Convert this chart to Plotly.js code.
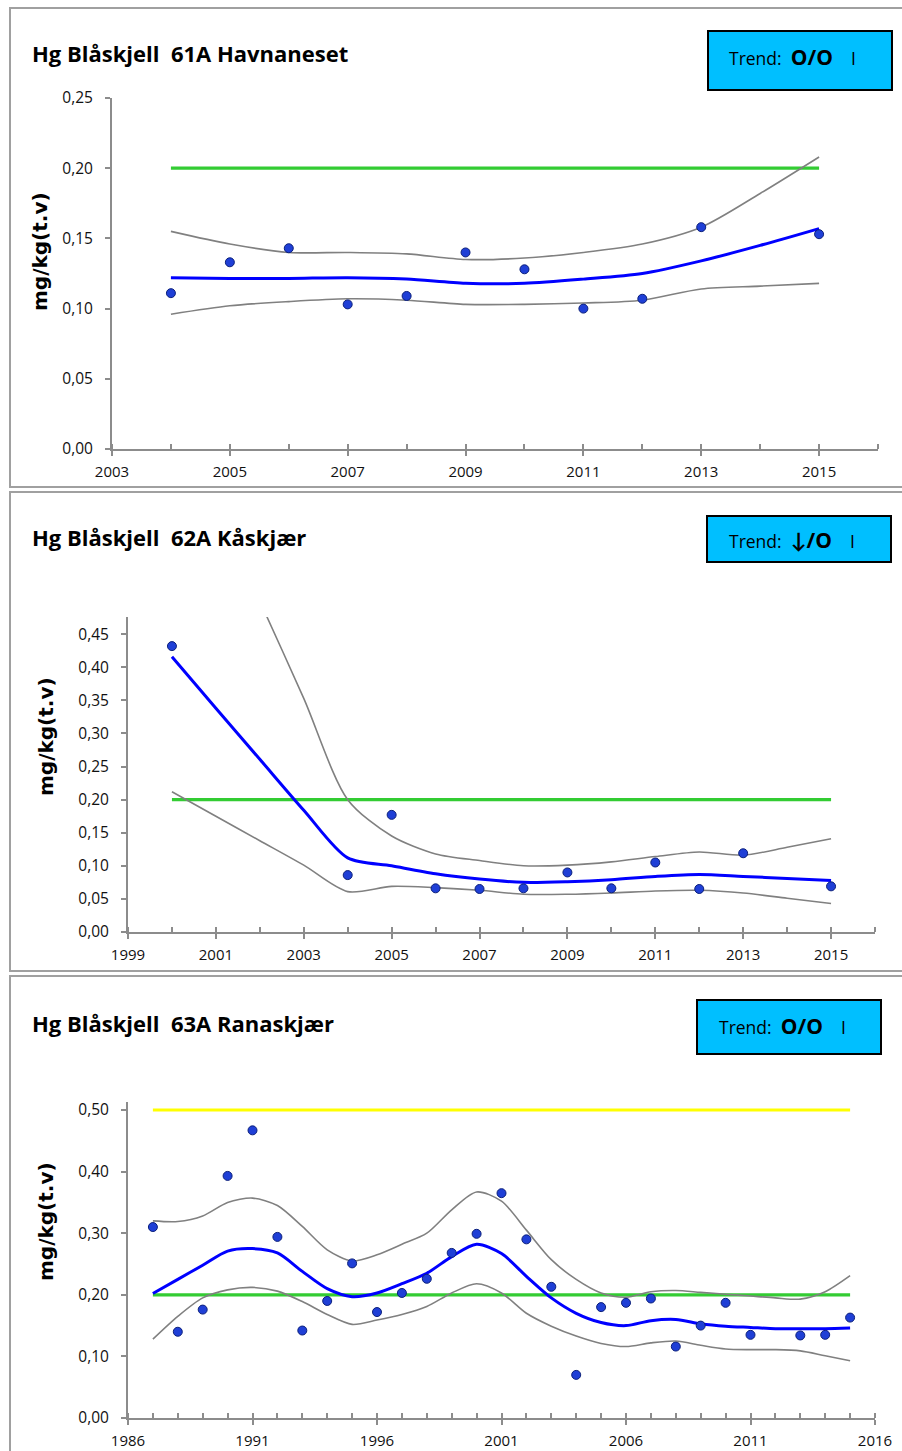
<!DOCTYPE html>
<html><head><meta charset="utf-8">
<script src="https://cdn.plot.ly/plotly-3.0.1.min.js"></script>
<style>html,body{margin:0;padding:0;background:#fff}#chart{width:902px;height:1451px}</style>
</head><body><div id="chart"></div>
<script>
// ---------- DATA ----------
// Panel 1: 61A Havnaneset
const p1_title = "Hg Blåskjell\u00a0 61A Havnaneset";
const p1_trendSymbol = "O/O";
const p1_years = [2004,2005,2006,2007,2008,2009,2010,2011,2012,2013,2015];
const p1_hg = [0.111,0.133,0.143,0.103,0.109,0.140,0.128,0.100,0.107,0.158,0.153];
const p1_fitYears = [2004,2005,2006,2007,2008,2009,2010,2011,2012,2013,2014,2015];
const p1_trend = [0.122,0.1215,0.1215,0.122,0.121,0.118,0.118,0.121,0.125,0.134,0.145,0.157];
const p1_upper = [0.155,0.146,0.140,0.140,0.139,0.135,0.136,0.140,0.146,0.158,0.182,0.208];
const p1_lower = [0.096,0.102,0.105,0.107,0.106,0.103,0.103,0.104,0.106,0.114,0.116,0.118];
const p1_limitYears = [2004,2015];
const p1_limitGreen = [0.20,0.20];

// Panel 2: 62A Kåskjær
const p2_title = "Hg Blåskjell\u00a0 62A Kåskjær";
const p2_trendSymbol = "\u2193/O";
const p2_years = [2000,2004,2005,2006,2007,2008,2009,2010,2011,2012,2013,2015];
const p2_hg = [0.432,0.086,0.177,0.066,0.065,0.066,0.090,0.066,0.105,0.065,0.119,0.069];
const p2_fitYears = [2000,2001,2002,2003,2004,2005,2006,2007,2008,2009,2010,2011,2012,2013,2014,2015];
const p2_trend = [0.416,0.338,0.261,0.184,0.112,0.100,0.088,0.080,0.075,0.076,0.079,0.084,0.087,0.084,0.081,0.078];
const p2_upper = [0.790,0.645,0.500,0.353,0.200,0.145,0.118,0.108,0.100,0.101,0.106,0.114,0.121,0.116,0.128,0.141];
const p2_lower = [0.212,0.175,0.138,0.101,0.061,0.069,0.067,0.063,0.057,0.057,0.059,0.062,0.063,0.059,0.051,0.043];
const p2_limitYears = [2000,2015];
const p2_limitGreen = [0.20,0.20];

// Panel 3: 63A Ranaskjær
const p3_title = "Hg Blåskjell\u00a0 63A Ranaskjær";
const p3_trendSymbol = "O/O";
const p3_years = [1987,1988,1989,1990,1991,1992,1993,1994,1995,1996,1997,1998,1999,2000,2001,2002,2003,2004,2005,2006,2007,2008,2009,2010,2011,2013,2014,2015];
const p3_hg = [0.310,0.140,0.176,0.393,0.467,0.294,0.142,0.190,0.251,0.172,0.203,0.226,0.268,0.299,0.365,0.290,0.213,0.070,0.180,0.187,0.194,0.116,0.150,0.187,0.135,0.134,0.135,0.163];
const p3_fitYears = [1987,1988,1989,1990,1991,1992,1993,1994,1995,1996,1997,1998,1999,2000,2001,2002,2003,2004,2005,2006,2007,2008,2009,2010,2011,2012,2013,2014,2015];
const p3_trend = [0.202,0.225,0.248,0.271,0.275,0.268,0.238,0.210,0.197,0.203,0.218,0.235,0.262,0.282,0.267,0.230,0.195,0.170,0.155,0.150,0.158,0.160,0.153,0.149,0.147,0.145,0.145,0.145,0.146];
const p3_upper = [0.320,0.319,0.328,0.350,0.357,0.345,0.311,0.273,0.255,0.265,0.282,0.300,0.338,0.367,0.352,0.305,0.257,0.225,0.203,0.196,0.205,0.207,0.204,0.201,0.198,0.195,0.193,0.205,0.231];
const p3_lower = [0.128,0.165,0.195,0.208,0.212,0.206,0.189,0.168,0.152,0.159,0.168,0.181,0.203,0.218,0.203,0.170,0.149,0.133,0.121,0.116,0.122,0.125,0.118,0.112,0.111,0.111,0.109,0.101,0.093];
const p3_limitYears = [1987,2015];
const p3_limitGreen = [0.20,0.20];
const p3_limitYellow = [0.50,0.50];

const yTitle = "mg/kg(t.v)";

// ---------- LAYOUT HELPERS ----------
const W = 902, H = 1451;
const px = v => v / W;
const py = v => 1 - v / H;

const GRAY = "#8c8c8c";
const XTICKFONT = {family: "Open Sans, Lato, sans-serif", size: 15, color: "#111"};
const YTICKFONT = {family: "Open Sans, Lato, sans-serif", size: 15.5, color: "#111"};

function xAxis(dom, range, tick0, dtick, anchor) {
  return {domain: dom, range: range, tick0: tick0, dtick: dtick, anchor: anchor,
    showgrid: false, zeroline: false, showline: true, linecolor: GRAY, linewidth: 2,
    ticks: "outside", ticklen: 5, tickwidth: 2, tickcolor: GRAY,
    minor: {dtick: 1, tick0: tick0, ticks: "inside", ticklen: 5, tickwidth: 2, tickcolor: GRAY, showgrid: false},
    tickfont: XTICKFONT, ticklabelstandoff: 3, fixedrange: true};
}
function yAxis(dom, range, dtick, anchor) {
  return {domain: dom, range: range, tick0: 0, dtick: dtick, anchor: anchor,
    showgrid: false, zeroline: false, showline: true, linecolor: GRAY, linewidth: 2,
    ticks: "outside", ticklen: 5, tickwidth: 2, tickcolor: GRAY, tickformat: ".2f",
    tickfont: YTICKFONT, ticklabelstandoff: 9, fixedrange: true};
}

function panelTraces(xa, ya, years, hg, fitYears, trend, upper, lower, limits) {
  const t = [];
  limits.forEach(l => t.push({x: l.x, y: l.y, xaxis: xa, yaxis: ya, mode: "lines",
    line: {color: l.color, width: 3.2}, hoverinfo: "skip"}));
  t.push({x: fitYears, y: upper, xaxis: xa, yaxis: ya, mode: "lines",
    line: {color: "#808080", width: 1.6, shape: "spline", smoothing: 0.8}});
  t.push({x: fitYears, y: lower, xaxis: xa, yaxis: ya, mode: "lines",
    line: {color: "#808080", width: 1.6, shape: "spline", smoothing: 0.8}});
  t.push({x: fitYears, y: trend, xaxis: xa, yaxis: ya, mode: "lines",
    line: {color: "#0000ff", width: 3, shape: "spline", smoothing: 0.8}});
  t.push({x: years, y: hg, xaxis: xa, yaxis: ya, mode: "markers", cliponaxis: false,
    marker: {color: "#1f3fd6", size: 9, line: {color: "#0b1f7a", width: 1}}});
  return t;
}

const traces = [].concat(
  panelTraces("x", "y", p1_years, p1_hg, p1_fitYears, p1_trend, p1_upper, p1_lower,
    [{x: p1_limitYears, y: p1_limitGreen, color: "#33cc33"}]),
  panelTraces("x2", "y2", p2_years, p2_hg, p2_fitYears, p2_trend, p2_upper, p2_lower,
    [{x: p2_limitYears, y: p2_limitGreen, color: "#33cc33"}]),
  panelTraces("x3", "y3", p3_years, p3_hg, p3_fitYears, p3_trend, p3_upper, p3_lower,
    [{x: p3_limitYears, y: p3_limitYellow, color: "#ffff00"},
     {x: p3_limitYears, y: p3_limitGreen, color: "#33cc33"}])
);

const shapes = [];
function frame(x0, y0, x1, y1) {
  shapes.push({type: "rect", xref: "paper", yref: "paper", x0: px(x0), x1: px(x1), y0: py(y1), y1: py(y0),
    line: {color: "#a0a0a0", width: 2}, fillcolor: "rgba(0,0,0,0)", layer: "below"});
}
frame(10, 8, 910, 487);
frame(10, 492, 910, 971);
frame(10, 976, 910, 1470);

function trendBox(x0, y0, x1, y1) {
  shapes.push({type: "rect", xref: "paper", yref: "paper", x0: px(x0), x1: px(x1), y0: py(y1), y1: py(y0),
    line: {color: "#000", width: 2}, fillcolor: "#00bfff"});
}
trendBox(708, 31, 892, 90);
trendBox(707, 516, 891, 562);
trendBox(697, 1000, 881, 1054);

const annotations = [];
function label(text, x, y, opts) {
  annotations.push(Object.assign({text: text, xref: "paper", yref: "paper", x: px(x), y: py(y),
    showarrow: false, xanchor: "left", yanchor: "middle"}, opts));
}
const TITLEFONT = {family: "Open Sans, Lato, sans-serif", size: 22, color: "#000"};
label("<b>" + p1_title + "</b>", 30, 53, {font: TITLEFONT});
label("<b>" + p2_title + "</b>", 30, 537, {font: TITLEFONT});
label("<b>" + p3_title + "</b>", 30, 1023, {font: TITLEFONT});

const TRENDFONT = {family: "Open Sans, Lato, sans-serif", size: 17.5, color: "#000"};
function trendText(sym) {
  return "Trend:\u00a0 <span style=\"font-size:21px\"><b>" + sym + "</b></span>\u00a0\u00a0\u00a0 I";
}
label(trendText(p1_trendSymbol), 727, 57, {font: TRENDFONT});
label(trendText(p2_trendSymbol), 727, 540, {font: TRENDFONT});
label(trendText(p3_trendSymbol), 717, 1026, {font: TRENDFONT});

const YTFONT = {family: "DejaVu Sans, sans-serif", size: 20, color: "#000"};
label("<b>" + yTitle + "</b>", 40, 252, {font: YTFONT, textangle: -90, xanchor: "center"});
label("<b>" + yTitle + "</b>", 46, 737, {font: YTFONT, textangle: -90, xanchor: "center"});
label("<b>" + yTitle + "</b>", 46, 1222, {font: YTFONT, textangle: -90, xanchor: "center"});

const layout = {
  width: W, height: H, margin: {l: 0, r: 0, t: 0, b: 0},
  paper_bgcolor: "#fff", plot_bgcolor: "#fff", showlegend: false, separators: ", ",
  xaxis: xAxis([px(112), px(878)], [2003, 2016], 2003, 2, "y"),
  yaxis: yAxis([py(449), py(98)], [0, 0.25], 0.05, "x"),
  xaxis2: xAxis([px(128), px(875)], [1999, 2016], 1999, 2, "y2"),
  yaxis2: yAxis([py(932), py(617)], [0, 0.476], 0.05, "x2"),
  xaxis3: xAxis([px(128), px(875)], [1986, 2016], 1986, 5, "y3"),
  yaxis3: yAxis([py(1418), py(1102)], [0, 0.513], 0.1, "x3"),
  shapes: shapes, annotations: annotations, hovermode: false
};

Plotly.newPlot("chart", traces, layout, {displayModeBar: false, staticPlot: true});
</script></body></html>
